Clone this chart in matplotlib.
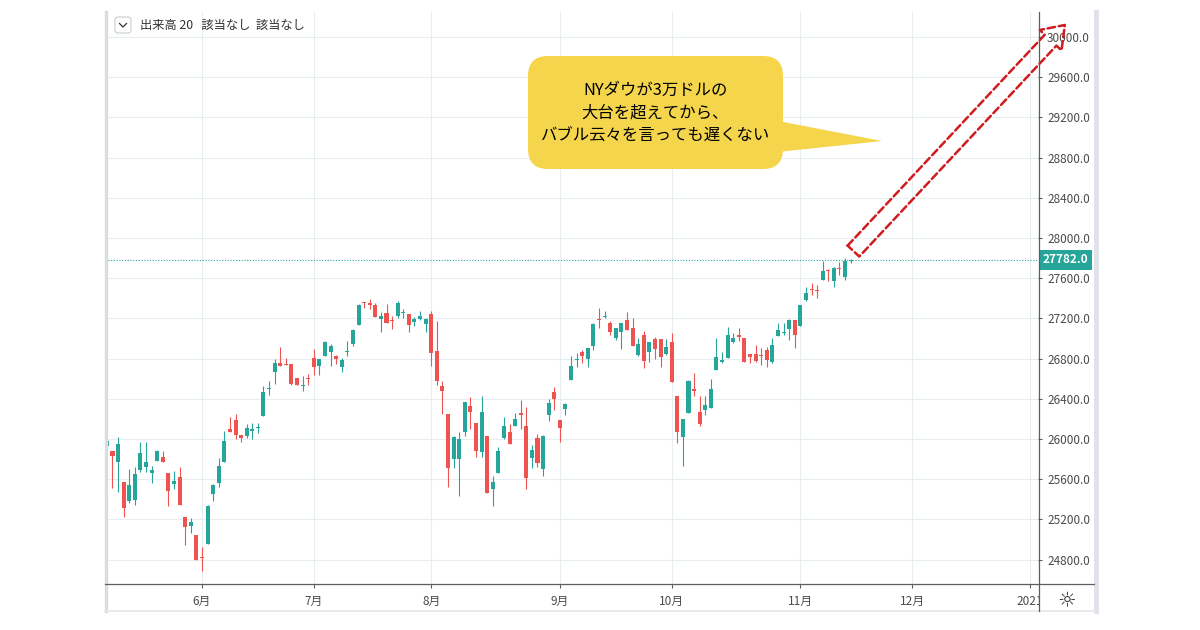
import matplotlib
matplotlib.use("Agg")
import matplotlib.pyplot as plt
import numpy as np
from matplotlib.lines import Line2D
from matplotlib.patches import FancyArrowPatch, FancyBboxPatch, Polygon, Rectangle
from matplotlib.transforms import blended_transform_factory

plt.rcParams['font.family'] = ['Noto Sans CJK JP', 'DejaVu Sans']

W, H = 1200, 630

# daily candles, index 0 = first visible bar
opens = [25930, 25883, 25767, 25573, 25383, 25393, 25693, 25717, 25657, 25783,
         25823, 25660, 25550, 25617, 25227, 25133, 25040, 24830, 24957, 25450,
         25560, 25767, 26100, 26193, 26040, 26033, 26083, 26113, 26233, 26497,
         26667, 26760, 26750, 26743, 26607, 26523, 26610, 26810, 26727, 26830,
         26863, 26830, 26713, 26863, 26950, 27133, 27363, 27350, 27330, 27190,
         27250, 27183, 27223, 27257, 27247, 27167, 27190, 27147, 27240, 26880,
         26523, 26250, 25800, 25800, 26073, 26330, 26163, 25873, 26033, 25500,
         25657, 26007, 26073, 26133, 26263, 26133, 25813, 26013, 25697, 26240,
         26467, 26190, 26297, 26590, 26783, 26867, 26797, 26923, 27197, 27210,
         27150, 27000, 27067, 27183, 27100, 26840, 27033, 26863, 26997, 26997,
         26847, 26963, 26423, 26023, 26257, 26497, 26273, 26290, 26307, 26683,
         26763, 26807, 26963, 27030, 27000, 26847, 26850, 26840, 26887, 26770,
         27020, 27053, 27090, 27180, 27123, 27380, 27490, 27487, 27580, 27680,
         27570, 27697, 27613, 27770]
highs = [25985, 25883, 26017, 25573, 25700, 25723, 25967, 25967, 25733, 25893,
         25877, 25660, 25677, 25723, 25227, 25217, 25040, 24930, 25340, 25550,
         25807, 26077, 26217, 26250, 26040, 26150, 26160, 26157, 26527, 26573,
         26800, 26917, 26807, 26743, 26607, 26627, 26650, 26893, 26793, 26973,
         26947, 26840, 26807, 26980, 27090, 27340, 27363, 27397, 27350, 27267,
         27340, 27223, 27373, 27290, 27247, 27213, 27273, 27207, 27273, 27173,
         26573, 26250, 26030, 26067, 26373, 26413, 26163, 26423, 26033, 25630,
         25923, 26217, 26147, 26263, 26390, 26323, 25940, 26047, 26040, 26400,
         26517, 26190, 26357, 26830, 26857, 26890, 26907, 27157, 27307, 27277,
         27173, 27107, 27157, 27267, 27200, 27007, 27073, 26967, 27017, 26997,
         26997, 27057, 26423, 26200, 26590, 26657, 26423, 26423, 26597, 27007,
         26867, 27117, 27057, 27107, 27000, 26847, 26940, 26907, 26913, 27007,
         27153, 27153, 27197, 27180, 27337, 27513, 27553, 27530, 27770, 27690,
         27707, 27763, 27797, 27787]
lows = [25925, 25517, 25473, 25223, 25367, 25347, 25673, 25667, 25567, 25777,
        25767, 25333, 25500, 25343, 24943, 25067, 24800, 24683, 24957, 25383,
        25527, 25767, 26067, 26000, 25967, 26007, 26000, 26057, 26227, 26433,
        26550, 26727, 26740, 26533, 26533, 26473, 26533, 26633, 26640, 26823,
        26730, 26750, 26667, 26823, 26923, 27133, 27307, 27297, 27217, 27067,
        27157, 27090, 27207, 27207, 27067, 27123, 27183, 27067, 26723, 26540,
        26250, 25523, 25707, 25433, 26030, 26097, 25817, 25823, 25463, 25333,
        25657, 26000, 25947, 26133, 26100, 25500, 25713, 25723, 25633, 26183,
        26293, 25973, 26240, 26590, 26717, 26757, 26713, 26890, 27107, 27200,
        27033, 26983, 26900, 27083, 26930, 26823, 26707, 26763, 26800, 26713,
        26840, 26567, 25963, 25733, 26257, 26423, 26130, 26240, 26307, 26683,
        26757, 26807, 26957, 26973, 26763, 26757, 26763, 26740, 26713, 26757,
        27020, 27030, 26990, 26907, 27123, 27373, 27437, 27403, 27580, 27570,
        27513, 27630, 27580, 27747]
closes = [25980, 25833, 25950, 25317, 25540, 25650, 25860, 25767, 25690, 25877,
          25767, 25483, 25583, 25343, 25123, 25173, 24800, 24820, 25333, 25540,
          25727, 25983, 26067, 26043, 26007, 26110, 26100, 26120, 26467, 26507,
          26760, 26727, 26740, 26550, 26540, 26540, 26600, 26717, 26793, 26963,
          26923, 26797, 26790, 26877, 27083, 27333, 27350, 27333, 27217, 27223,
          27157, 27173, 27357, 27267, 27133, 27197, 27223, 27197, 26857, 26573,
          26473, 25707, 26023, 26000, 26373, 26273, 25883, 26273, 25463, 25573,
          25880, 26133, 25947, 26200, 26240, 25613, 25890, 25763, 26033, 26357,
          26397, 26107, 26347, 26730, 26790, 26823, 26907, 27140, 27183, 27220,
          27067, 27107, 27150, 27083, 26930, 26950, 26780, 26967, 26897, 26817,
          26917, 26567, 26073, 26200, 26573, 26473, 26150, 26340, 26497, 26813,
          26787, 27030, 27000, 27017, 26763, 26817, 26780, 26830, 26787, 26940,
          27080, 27063, 27180, 27030, 27337, 27457, 27480, 27477, 27670, 27670,
          27697, 27687, 27770, 27782]

month_idx = [17, 37, 58, 81, 101, 124, 144, 165]
month_labels = ["6月", "7月", "8月", "9月", "10月", "11月", "12月", "2021"]
price_ticks = list(range(24800, 30001, 400))

legend_text = "出来高 20   該当なし  該当なし"
callout_text = "NYダウが3万ドルの\n大台を超えてから、\nバブル云々を言っても遅くない"
# hand-drawn arrow: from the last bar up to the 30,000 level
arrow_from = (133.5, 27870)
arrow_to = (171.3, 30120)

GREEN = "#26a69a"
RED = "#ef5350"
GRID = "#e8edf1"
AXIS = "#5d5d5d"
TEXT = "#4a4a4a"
YELLOW = "#f4d54c"


def px(x, y):
    # pixel position -> figure fraction
    return x / W, 1 - y / H


fig = plt.figure(figsize=(W / 100, H / 100), dpi=100)
ax = fig.add_axes([105 / W, 1 - 584 / H, (1038 - 105) / W, (584 - 12) / H])

o = np.array(opens, dtype=float)
h = np.array(highs, dtype=float)
l = np.array(lows, dtype=float)
c = np.array(closes, dtype=float)
x = np.arange(len(c))
colors = np.where(c >= o, GREEN, RED)

ax.vlines(x, l, h, colors=colors, lw=0.8, zorder=2)
body_lo = np.minimum(o, c)
body_h = np.maximum(np.abs(c - o), 9)
ax.bar(x, body_h, bottom=body_lo, width=0.72, color=colors, linewidth=0, zorder=3)

# current price line + label
ax.axhline(c[-1], color=GREEN, lw=0.8, ls=(0, (1, 1.5)), zorder=1.5)
trans = blended_transform_factory(ax.transAxes, ax.transData)
ax.text(1.005, c[-1], f"{c[-1]:.1f}", transform=trans, color="white",
        fontsize=8.5, fontweight="bold", va="center", ha="left", clip_on=False,
        bbox=dict(boxstyle="square,pad=0.32", fc=GREEN, ec="none"), zorder=10)

ax.set_xlim(-0.34, 166.5)
ax.set_ylim(24557, 30249)

ax.set_xticks(month_idx, month_labels)
ax.set_yticks(price_ticks, [f"{v:.1f}" for v in price_ticks])
ax.yaxis.tick_right()
ax.tick_params(axis="y", length=3, width=0.8, color=AXIS, pad=3.5,
               labelsize=8.5, labelcolor=TEXT)
ax.tick_params(axis="x", length=3, width=0.8, color=AXIS, pad=5,
               labelsize=8.5, labelcolor=TEXT)
ax.grid(True, color=GRID, lw=0.8)
ax.set_axisbelow(True)
for s in ax.spines.values():
    s.set_visible(False)

# hollow dashed arrow
arrow = FancyArrowPatch(arrow_from, arrow_to,
                        arrowstyle="simple,head_length=15,head_width=21.5,tail_width=11.5",
                        mutation_scale=1, fc="none", ec="#d01c1f", lw=1.8,
                        ls=(0, (3, 1.5)), shrinkA=0, shrinkB=0,
                        clip_on=False, zorder=6)
ax.add_patch(arrow)

# panel frame
def fig_line(p0, p1, color, lw, z=4):
    (x0, y0), (x1, y1) = px(*p0), px(*p1)
    fig.add_artist(Line2D([x0, x1], [y0, y1], color=color, lw=lw, zorder=z,
                          transform=fig.transFigure))


fig.add_artist(Rectangle(px(1039, 609), 54 / W, 24 / H, fc="white", ec="none",
                         transform=fig.transFigure, zorder=4))
fig_line((106, 12), (106, 611), "#d9dde2", 2.4)
fig_line((1095.5, 12), (1095.5, 611), "#dfe2e7", 3.5)
fig_line((105, 610.5), (1097, 610.5), "#e4e7eb", 1.2)
fig_line((1038.5, 12), (1038.5, 611), AXIS, 0.9, 5)
fig_line((105, 584), (1094, 584), AXIS, 0.9, 5)
fig.text(*px(1067, 600), "☼", family=["DejaVu Sans"], fontsize=15,
         color="#333333", ha="center", va="center", zorder=6)

# legend line at top-left
fig.add_artist(FancyBboxPatch(px(115, 33), 16 / W, 16 / H,
                              boxstyle="round,pad=0,rounding_size=" + str(3 / W),
                              mutation_aspect=W / H, fc="white", ec="#c9cdd2",
                              lw=0.8, transform=fig.transFigure, zorder=6))
cx, cy = zip(px(119.5, 23.5), px(123, 27), px(126.5, 23.5))
fig.add_artist(Line2D(cx, cy, color="#333333", lw=0.9, transform=fig.transFigure, zorder=7))
fig.text(*px(140, 25), legend_text, fontsize=8.8, color="#333333",
         ha="left", va="center", zorder=6)

# speech bubble
fig.add_artist(Polygon([px(778, 121), px(882, 141), px(778, 152)], closed=True,
                       fc=YELLOW, ec="none", transform=fig.transFigure, zorder=6))
fig.add_artist(FancyBboxPatch(px(528, 169), 255 / W, 113 / H,
                              boxstyle="round,pad=0,rounding_size=" + str(20 / W),
                              mutation_aspect=W / H, fc=YELLOW, ec="none",
                              transform=fig.transFigure, zorder=6))
fig.text(*px(655.5, 113), callout_text, fontsize=11.8, color="black",
         ha="center", va="center", multialignment="center", linespacing=1.45,
         zorder=7)

fig.savefig("out.png", dpi=100, facecolor="white")
